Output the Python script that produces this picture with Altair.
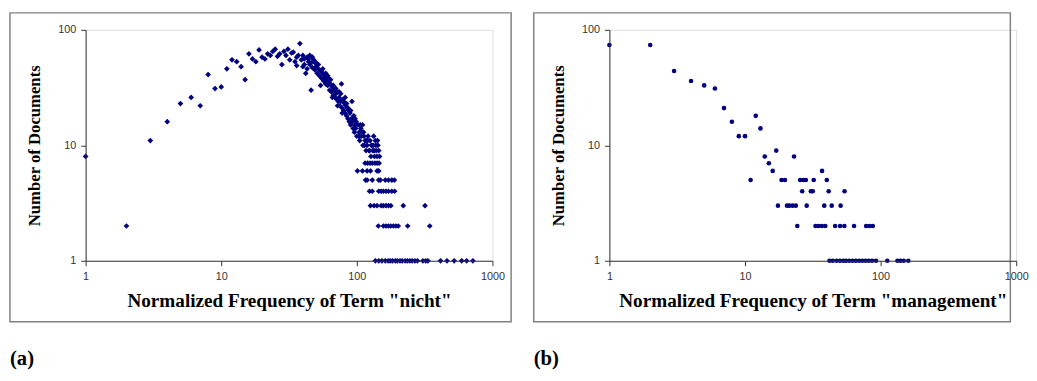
import altair as alt
import pandas as pd

# ---------------- panel (a): term "nicht" ----------------
A_CURVE_X = [1, 2, 3, 4, 5, 6, 7, 8, 9, 10, 11, 12, 13, 14, 15, 16, 17, 18, 19, 20,
             21, 22, 23, 24, 25, 26, 27, 28, 29, 30, 31, 32, 33, 34, 35, 36, 36, 37, 38, 39,
             40, 40, 41, 42, 43, 44, 46]
A_CURVE_Y = [8, 2, 11, 16, 23, 26, 22, 41, 31, 32, 46, 55, 53, 48, 37, 62, 56, 53, 67, 58,
             56, 62, 60, 65, 68, 59, 62, 50, 65, 60, 68, 55, 63, 64, 53, 58, 49, 60, 76, 55,
             60, 48, 56, 42, 58, 53, 30]

A_BAND_X = [44, 45, 46, 47, 48, 49, 50, 51, 52, 53, 54, 55, 56, 57, 58, 59, 60, 61, 62, 63,
            64, 65, 66, 67, 68, 69, 70, 71, 72, 73, 74, 75, 76, 77, 78, 79, 80, 81, 82, 83,
            84, 85, 86, 87, 88, 89, 90, 91, 92, 93, 94, 95, 96, 97, 98, 100, 102, 104, 105, 107,
            108, 110, 111, 113, 115, 117, 119, 121, 123, 125, 127, 129, 131, 133, 135, 137, 139, 141, 143, 145,
            147]
A_BAND_Y = [56, 50, 52, 47, 55, 45, 48, 42, 46, 40, 44, 38, 42, 36, 39, 34, 37, 33, 36, 30,
            34, 29, 32, 27, 30, 26, 28, 25, 29, 24, 26, 22, 24, 34, 21, 25, 20, 23, 19, 22,
            18, 21, 17, 20, 16, 19, 15, 17, 24, 16, 14, 18, 13, 15, 14, 12, 15, 13, 11, 14,
            12, 15, 10, 12, 11, 9, 10, 12, 9, 11, 8, 10, 9, 12, 8, 11, 9, 8, 10, 9,
            8]
A_BAND2_X = [50, 55, 58, 62, 66, 70, 74, 78, 82, 86, 90, 95, 99, 103, 109, 114, 118, 124, 128, 134, 138, 142]
A_BAND2_Y = [52, 44, 41, 38, 26, 31, 29, 19, 26, 21, 20, 17, 16, 12, 13, 10, 11, 9, 10, 9, 10, 11]
A_BAND3_X = [41, 43, 45, 47, 49, 52, 54, 56, 59, 61, 64, 67, 69, 72, 76, 80, 84, 88, 97, 106, 112, 120, 132]
A_BAND3_Y = [50, 46, 60, 58, 52, 50, 33, 46, 42, 40, 37, 33, 31, 22, 28, 24, 23, 20, 17, 15, 13, 11, 10]

A_ROW7 = [115, 120, 125, 130, 136, 141, 146]
A_ROW6 = [101, 110, 119, 126, 141, 145]
A_ROW5 = [116, 119, 130, 145, 149, 162, 171, 181, 189]
A_ROW4 = [124, 130, 145, 151, 157, 164, 171, 181, 190]
A_ROW3 = [126, 134, 141, 151, 157, 164, 171, 178, 220, 318]
A_ROW2 = [144, 157, 164, 171, 178, 186, 194, 202, 237, 345]
A_ROW1 = [137, 145, 153, 162, 170, 176, 183, 192, 199, 208, 216, 227, 236, 246, 256, 268,
          280, 307, 322, 334, 414, 462, 522, 593, 645, 717]

# ---------------- panel (b): term "management" ----------------
B_X = [1, 2, 3, 4, 5, 6, 7, 8, 9, 10, 11, 12, 13, 14, 15, 16, 17, 23, 37]
B_Y = [74, 74, 44, 36, 33, 31, 21, 16, 12, 12, 5, 18, 14, 8, 7, 6, 9, 8, 6]
B_ROW5 = [18.6, 19.7, 25.5, 26.9, 28.1, 32.1, 40.1]
B_ROW4 = [26.4, 30.6, 31.6, 41.4, 54.2]
B_ROW3 = [17.5, 20.4, 21.2, 22.4, 23.7, 28.5, 38.4, 43.6, 50.7]
B_ROW2 = [24.3, 33.1, 34.9, 36.9, 39.1, 46.2, 50.2, 54.0, 63.7, 78.2, 82.7, 87.5]
B_ROW1 = [42, 44.4, 47.4, 50.2, 53.1, 55.5, 58.6, 62, 65.6, 69.3, 73.2, 77.4, 81.8, 86.5,
          92.5, 112, 133, 140, 148, 160]

X_TICKS = [1, 10, 100, 1000]
Y_TICKS = [1, 10, 100]
TITLE_A = 'Normalized Frequency of Term "nicht"'
TITLE_B = 'Normalized Frequency of Term "management"'
Y_TITLE = "Number of Documents"


def build(xs, ys, rows):
    px, py = list(xs), list(ys)
    for yv, row in rows.items():
        px += row
        py += [yv] * len(row)
    return pd.DataFrame({"x": px, "y": py})


df_a = build(A_CURVE_X + A_BAND_X + A_BAND2_X + A_BAND3_X,
             A_CURVE_Y + A_BAND_Y + A_BAND2_Y + A_BAND3_Y,
             {7: A_ROW7, 6: A_ROW6, 5: A_ROW5, 4: A_ROW4, 3: A_ROW3, 2: A_ROW2, 1: A_ROW1})
df_b = build(B_X, B_Y, {5: B_ROW5, 4: B_ROW4, 3: B_ROW3, 2: B_ROW2, 1: B_ROW1})

NAVY = "#000080"
W, H = 414, 235
AXC = "#333333"


def panel(df, mark, xtitle, tag, box_right):
    xenc = alt.X("x:Q", scale=alt.Scale(type="log", domain=[1, 1000], nice=False),
                 axis=alt.Axis(values=X_TICKS, format="d", grid=False, tickSize=5,
                               labelPadding=5, labelFlush=False, labelFont="Liberation Sans",
                               labelFontSize=11, labelColor=AXC, domainColor=AXC,
                               tickColor=AXC, title=xtitle, titleFont="Liberation Serif",
                               titleFontWeight="bold", titleFontSize=19.5, titleColor="#000000",
                               titleY=47, titleBaseline="alphabetic", zindex=1))
    yenc = alt.Y("y:Q", scale=alt.Scale(type="log", domain=[1, 100], nice=False),
                 axis=alt.Axis(values=Y_TICKS, format="d", grid=False, tickSize=5,
                               labelPadding=5, labelFont="Liberation Sans", labelFontSize=11,
                               labelColor=AXC, domainColor=AXC, tickColor=AXC,
                               title=Y_TITLE, titleFont="Liberation Serif", titleFontWeight="bold",
                               titleFontSize=17, titleColor="#000000", titleX=-47, titleY=H / 2,
                               titleBaseline="alphabetic", zindex=1))
    one = pd.DataFrame({"k": [0]})
    frame = alt.Chart(one).mark_rect(fill="#ffffff", fillOpacity=0, stroke="#808080",
                                     strokeWidth=1.5).encode(
        x=alt.value(-77), x2=alt.value(box_right), y=alt.value(-17.25), y2=alt.value(297))
    label = alt.Chart(one).mark_text(align="left", baseline="alphabetic", font="Liberation Serif",
                                     fontWeight="bold", fontSize=21, color="#000000").encode(
        x=alt.value(-77), y=alt.value(341), text=alt.value(tag))
    pts = alt.Chart(df).mark_point(**mark).encode(x=xenc, y=yenc)
    return alt.layer(frame, pts, label).properties(width=W, height=H)


left = panel(df_a, dict(shape="diamond", filled=True, size=34, color=NAVY, opacity=1),
             TITLE_A, "(a)", 433)
right = panel(df_b, dict(shape="circle", filled=True, size=22, color=NAVY, opacity=1),
              TITLE_B, "(b)", 408)

chart = alt.hconcat(left, right, spacing=19).properties(padding=0).configure_view(
    strokeWidth=0).configure(background="#ffffff")

chart.save("out.html", embed_options={"renderer": "svg", "actions": False})
